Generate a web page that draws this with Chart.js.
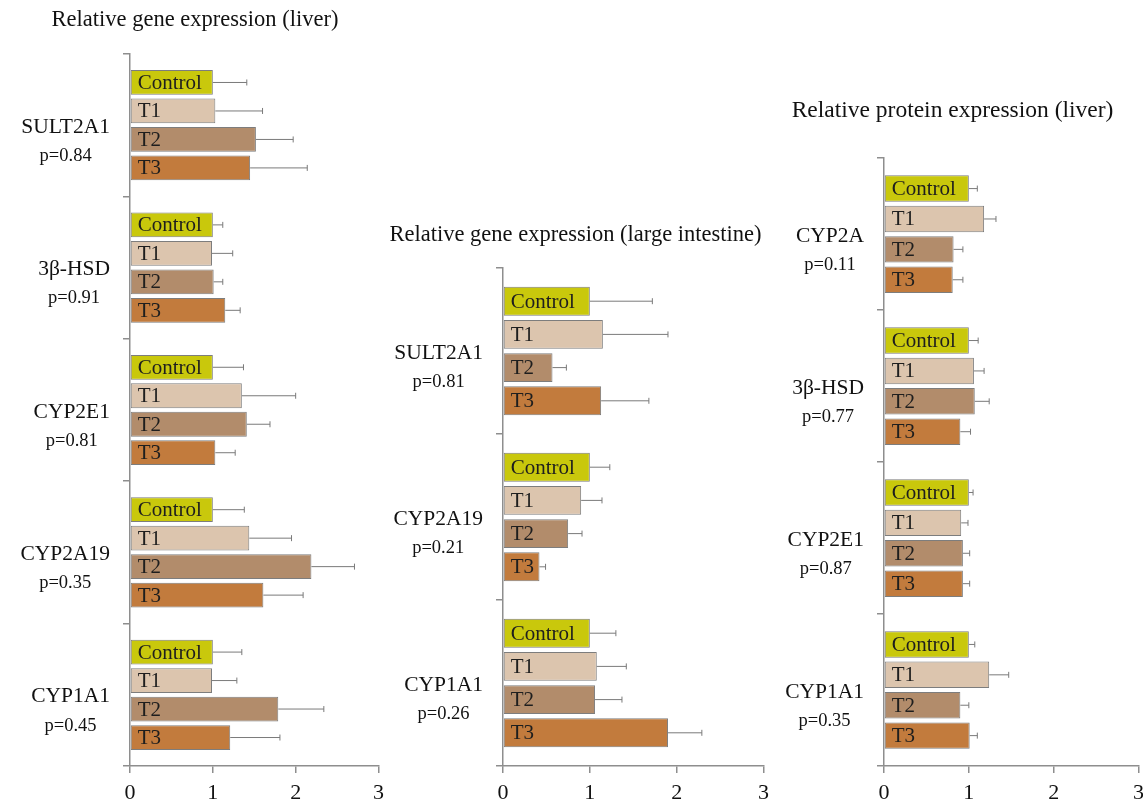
<!DOCTYPE html>
<html>
<head>
<meta charset="utf-8">
<script src="https://cdn.jsdelivr.net/npm/chart.js@4.4.1/dist/chart.umd.min.js"></script>
<style>
  html, body { margin: 0; padding: 0; background: #fff; }
  body { width: 1143px; height: 803px; position: relative; overflow: hidden; }
  canvas { position: absolute; top: 0; }
</style>
</head>
<body>
<canvas id="liverGene" width="391" height="803" style="left:0px"></canvas>
<canvas id="intestineGene" width="393" height="803" style="left:383px"></canvas>
<canvas id="liverProtein" width="396" height="803" style="left:755px"></canvas>
<script>
// series names / colours
const seriesNames = ['Control', 'T1', 'T2', 'T3'];
const seriesColors = ['#c9c80c', '#dcc5ae', '#b28c6b', '#c27b3d'];

// Relative gene expression (liver)
const liverGenes = ['SULT2A1', '3β-HSD', 'CYP2E1', 'CYP2A19', 'CYP1A1'];
const liverP = ['p=0.84', 'p=0.91', 'p=0.81', 'p=0.35', 'p=0.45'];
const liverControl = [1, 1, 1, 1, 1];
const liverT1 = [1.03, 0.99, 1.35, 1.44, 0.99];
const liverT2 = [1.52, 1.01, 1.41, 2.19, 1.79];
const liverT3 = [1.45, 1.15, 1.03, 1.61, 1.21];
const liverControlErr = [0.41, 0.12, 0.37, 0.38, 0.35];
const liverT1Err = [0.57, 0.25, 0.65, 0.51, 0.30];
const liverT2Err = [0.45, 0.11, 0.28, 0.52, 0.55];
const liverT3Err = [0.69, 0.18, 0.24, 0.48, 0.60];

// Relative gene expression (large intestine)
const intGenes = ['SULT2A1', 'CYP2A19', 'CYP1A1'];
const intP = ['p=0.81', 'p=0.21', 'p=0.26'];
const intControl = [1, 1, 1];
const intT1 = [1.15, 0.90, 1.08];
const intT2 = [0.57, 0.75, 1.06];
const intT3 = [1.13, 0.42, 1.90];
const intControlErr = [0.72, 0.23, 0.30];
const intT1Err = [0.75, 0.24, 0.34];
const intT2Err = [0.16, 0.16, 0.31];
const intT3Err = [0.55, 0.07, 0.39];

// Relative protein expression (liver)
const protGenes = ['CYP2A', '3β-HSD', 'CYP2E1', 'CYP1A1'];
const protP = ['p=0.11', 'p=0.77', 'p=0.87', 'p=0.35'];
const protControl = [1, 1, 1, 1];
const protT1 = [1.18, 1.06, 0.91, 1.24];
const protT2 = [0.82, 1.07, 0.93, 0.90];
const protT3 = [0.81, 0.90, 0.93, 1.01];
const protControlErr = [0.10, 0.11, 0.05, 0.07];
const protT1Err = [0.14, 0.12, 0.08, 0.23];
const protT2Err = [0.11, 0.17, 0.08, 0.10];
const protT3Err = [0.12, 0.12, 0.08, 0.09];

const xTicks = [0, 1, 2, 3];

const SERIF = '"Liberation Serif", "Times New Roman", serif';
const AXIS = '#8e8e8e';

// error bars, in-bar labels and the two-line gene labels
const decorPlugin = {
    id: 'decor',
    afterDatasetsDraw(chart, args, opts) {
        const ctx = chart.ctx;
        const xScale = chart.scales.x;
        ctx.save();
        chart.data.datasets.forEach((ds, di) => {
            const meta = chart.getDatasetMeta(di);
            meta.data.forEach((bar, i) => {
                // error bar (upper side only)
                const end = xScale.getPixelForValue(ds.data[i] + opts.errors[di][i]);
                ctx.strokeStyle = '#7a7a7a';
                ctx.lineWidth = 1;
                ctx.beginPath();
                ctx.moveTo(bar.x, bar.y);
                ctx.lineTo(end, bar.y);
                ctx.moveTo(end, bar.y - 3);
                ctx.lineTo(end, bar.y + 3);
                ctx.stroke();
                // series name inside bar
                ctx.fillStyle = '#1e1e1e';
                ctx.font = '21px ' + SERIF;
                ctx.textAlign = 'left';
                ctx.textBaseline = 'middle';
                ctx.fillText(ds.label, bar.base + 7, bar.y + 1);
            });
        });
        ctx.restore();
    },
    afterDraw(chart, args, opts) {
        const ctx = chart.ctx;
        const yScale = chart.scales.y;
        const right = chart.chartArea.left - 20;
        ctx.save();
        ctx.fillStyle = '#111';
        ctx.textBaseline = 'middle';
        opts.genes.forEach((g, i) => {
            const y = yScale.getPixelForValue(i);
            ctx.font = '21.5px ' + SERIF;
            const w = ctx.measureText(g).width;
            ctx.textAlign = 'right';
            ctx.fillText(g, right, y + 2);
            ctx.font = '18.5px ' + SERIF;
            ctx.textAlign = 'center';
            ctx.fillText(opts.pvals[i], right - w / 2, y + 31);
        });
        ctx.restore();
    }
};

function makePanel(id, title, genes, pvals, values, errors, geo) {
    const ctx = document.getElementById(id).getContext('2d');
    return new Chart(ctx, {
        type: 'bar',
        data: {
            labels: genes,
            datasets: values.map((v, k) => ({
                label: seriesNames[k],
                data: v,
                backgroundColor: seriesColors[k],
                borderColor: '#7d7d7d',
                borderWidth: 1,
                borderSkipped: false,
                categoryPercentage: 0.8,
                barPercentage: 0.87
            }))
        },
        options: {
            indexAxis: 'y',
            responsive: false,
            animation: false,
            layout: { padding: { top: 0, right: geo.padRight, bottom: 0, left: 0 } },
            scales: {
                y: {
                    type: 'category',
                    ticks: { display: false },
                    grid: { drawOnChartArea: false, drawTicks: true, tickLength: 7, offset: true, color: AXIS, lineWidth: 1.5 },
                    border: { color: AXIS, width: 1.5 },
                    afterFit: (s) => { s.width = geo.yWidth; }
                },
                x: {
                    min: 0,
                    max: 3,
                    afterBuildTicks: (s) => { s.ticks = xTicks.map(v => ({ value: v })); },
                    ticks: { color: '#111', padding: 7, font: { family: SERIF, size: 22 } },
                    grid: { drawOnChartArea: false, drawTicks: true, tickLength: 7, color: AXIS, lineWidth: 1.5 },
                    border: { color: AXIS, width: 1.5 },
                    afterFit: (s) => { s.height = 37; }
                }
            },
            plugins: {
                legend: { display: false },
                tooltip: { enabled: false },
                title: {
                    display: true,
                    text: title,
                    color: '#111',
                    font: { family: SERIF, size: geo.titleSize, weight: 'normal' },
                    padding: { top: geo.titleTop, bottom: geo.titleBottom }
                },
                decor: { genes: genes, pvals: pvals, errors: errors }
            }
        },
        plugins: [decorPlugin]
    });
}

makePanel('liverGene', 'Relative gene expression (liver)', liverGenes, liverP,
    [liverControl, liverT1, liverT2, liverT3],
    [liverControlErr, liverT1Err, liverT2Err, liverT3Err],
    { yWidth: 130, padRight: 1, titleTop: 7, titleBottom: 20, titleSize: 22.5 });

makePanel('intestineGene', 'Relative gene expression (large intestine)', intGenes, intP,
    [intControl, intT1, intT2, intT3],
    [intControlErr, intT1Err, intT2Err, intT3Err],
    { yWidth: 120, padRight: 8, titleTop: 222, titleBottom: 19, titleSize: 22.5 });

makePanel('liverProtein', 'Relative protein expression (liver)', protGenes, protP,
    [protControl, protT1, protT2, protT3],
    [protControlErr, protT1Err, protT2Err, protT3Err],
    { yWidth: 129, padRight: 1, titleTop: 97, titleBottom: 33, titleSize: 23.5 });
</script>
</body>
</html>
